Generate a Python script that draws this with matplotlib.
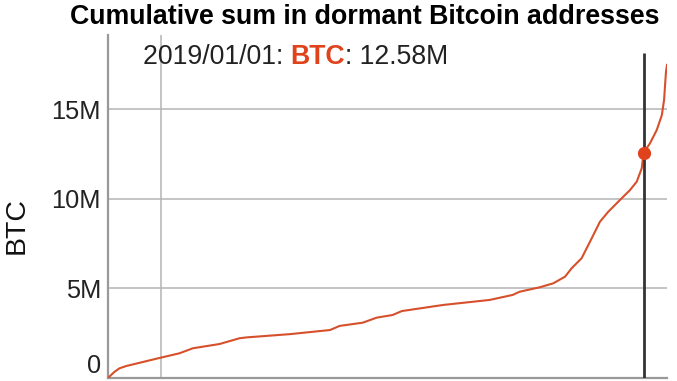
import pandas as pd
import matplotlib
matplotlib.use('Agg')
import matplotlib.pyplot as plt
import matplotlib.ticker as ticker
import matplotlib.dates as mdates

plt.rcParams['font.family'] = ['Liberation Sans', 'DejaVu Sans']

# Values (BTC, millions)
DATES = ['2009-01-03', '2009-01-17', '2009-02-17', '2009-03-22', '2009-05-08',
         '2009-12-10', '2010-05-05', '2010-08-04', '2011-02-03', '2011-06-18',
         '2011-08-08', '2012-05-27', '2013-02-24', '2013-05-01', '2013-10-05',
         '2014-01-08', '2014-04-27', '2014-06-29', '2015-04-06', '2016-02-17',
         '2016-07-23', '2016-09-09', '2017-01-25', '2017-04-26', '2017-07-15',
         '2017-08-29', '2017-11-05', '2018-01-01', '2018-03-10', '2018-05-06',
         '2018-07-24', '2018-10-01', '2018-11-16', '2018-12-20', '2019-01-01',
         '2019-02-14', '2019-04-01', '2019-05-06', '2019-05-21', '2019-06-03',
         '2019-06-10']
BTC_M = [0.0, 0.11, 0.35, 0.54, 0.67,
         1.10, 1.38, 1.66, 1.90, 2.22,
         2.27, 2.45, 2.68, 2.91, 3.09,
         3.37, 3.52, 3.74, 4.08, 4.36,
         4.64, 4.82, 5.07, 5.29, 5.66,
         6.13, 6.69, 7.61, 8.73, 9.29,
         9.94, 10.50, 10.97, 11.72, 12.58,
         13.11, 13.85, 14.69, 15.53, 17.10,
         17.49]

CURSOR_DATE = '2019-01-01'
CURSOR_VALUE = 12.58
Y_TICKS = [0, 5, 10, 15]
Y_TICK_LABELS = ['0', '5M', '10M', '15M']

LINE_COLOR = '#d6502b'
HIGHLIGHT = '#e0421c'

dates = pd.to_datetime(DATES)
values = [v * 1e6 for v in BTC_M]

fig = plt.figure(figsize=(6.77, 3.81), dpi=100)
ax = fig.add_axes([108 / 677, 3 / 381, (667 - 108) / 677, (378 - 35) / 381])

ax.plot(dates, values, color=LINE_COLOR, linewidth=1.5, zorder=3)

# axis ranges
ax.set_xlim(dates[0], dates[-1])
ax.set_ylim(0, 19.16e6)

# grid
ax.set_yticks([t * 1e6 for t in Y_TICKS])
ax.yaxis.set_major_formatter(ticker.FixedFormatter(Y_TICK_LABELS))
ax.xaxis.set_major_locator(mdates.YearLocator(10))
ax.grid(True, color='#b4b4b4', linewidth=1.1)
ax.tick_params(axis='x', length=0, labelbottom=False)
ax.tick_params(axis='y', length=0, labelsize=18.3, pad=5, colors='#222222')
for lab in ax.get_yticklabels():
    if lab.get_text() == '0':
        lab.set_va('bottom')

for side in ['top', 'right']:
    ax.spines[side].set_visible(False)
for side in ['left', 'bottom']:
    ax.spines[side].set_color('#999999')
    ax.spines[side].set_linewidth(1.6)

fig.text(17 / 677, 1 - 226 / 381, 'BTC', fontsize=20.5, color='#111111',
         rotation=90, ha='center', va='center')

# hover cursor
cur = pd.Timestamp(CURSOR_DATE)
ax.vlines(cur, 0, 18.16e6, color='#333333', linewidth=2, zorder=4)
ax.plot([cur], [CURSOR_VALUE * 1e6], 'o', color=HIGHLIGHT, markersize=8.5, zorder=5)

# legend text
LEG_Y = 1 - 57 / 381
LEG_SIZE = 19.2
t1 = fig.text(143 / 677, LEG_Y, '2019/01/01: ', fontsize=LEG_SIZE, color='#222222', va='center')
fig.canvas.draw()
bb = t1.get_window_extent()
t2 = fig.text(bb.x1 / 677, LEG_Y, 'BTC', fontsize=LEG_SIZE, color=HIGHLIGHT,
              fontweight='bold', va='center')
fig.canvas.draw()
bb2 = t2.get_window_extent()
fig.text(bb2.x1 / 677, LEG_Y, ': 12.58M', fontsize=LEG_SIZE, color='#222222', va='center')

fig.text(365 / 677, 1 - 17 / 381, 'Cumulative sum in dormant Bitcoin addresses',
         fontsize=19.3, fontweight='bold', ha='center', va='center', color='black')

fig.savefig('out.png', dpi=100)
